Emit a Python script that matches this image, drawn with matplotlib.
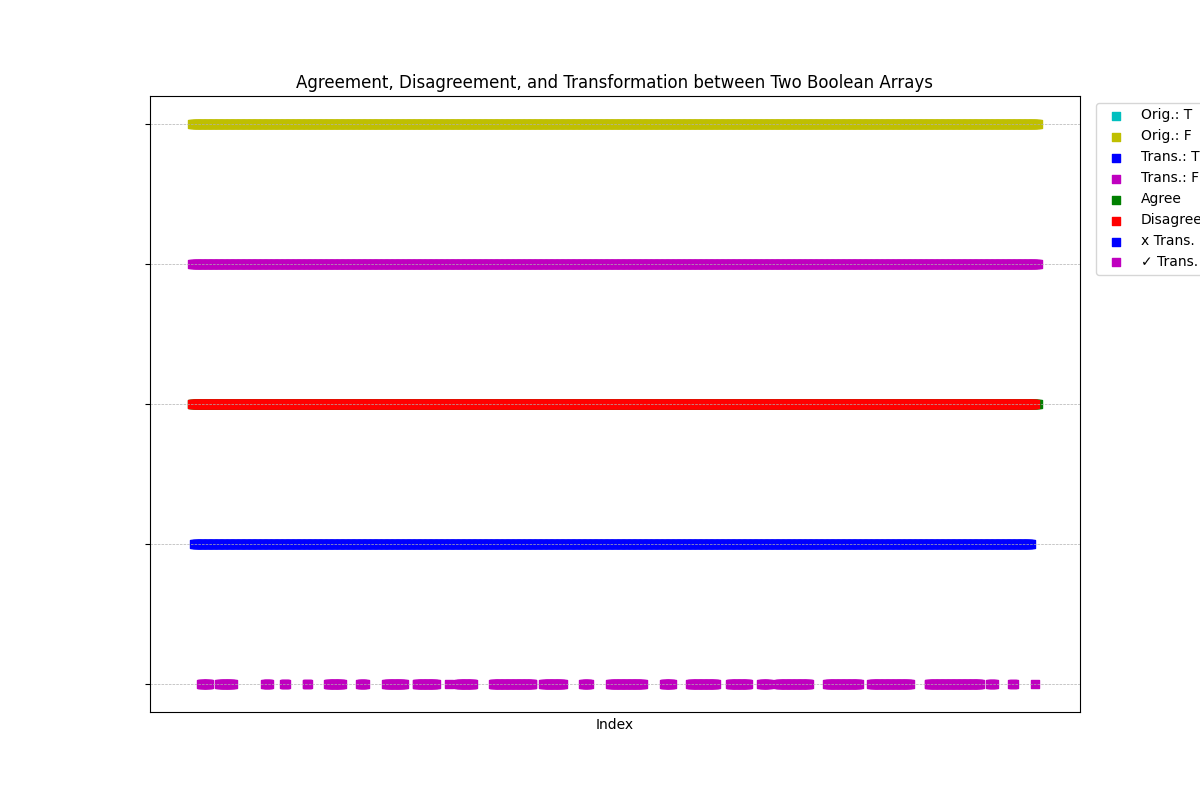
import numpy as np
import matplotlib
matplotlib.use('Agg')
import matplotlib.pyplot as plt

# index ranges (inclusive), 1000 positions in total
n_points = 1000
orig_t_segs = []
orig_f_segs = [(0, 999)]
trans_t_segs = []
trans_f_segs = [(0, 999)]
agree_segs = [(0, 999)]
disagree_segs = [(0, 996)]
x_trans_segs = [(2, 991)]
check_trans_segs = [(10, 20), (32, 48), (86, 91), (108, 111), (135, 137),
                    (160, 177), (198, 204), (229, 250), (265, 288), (303, 303),
                    (314, 332), (355, 402), (415, 438), (462, 469), (494, 532),
                    (557, 567), (588, 619), (635, 657), (672, 681), (692, 729),
                    (750, 788), (802, 848), (870, 931), (943, 947), (969, 971),
                    (996, 996)]


def expand(segs):
    idx = [np.arange(a, b + 1) for a, b in segs]
    if len(idx) == 0:
        return np.array([], dtype=int)
    return np.concatenate(idx)


#each series: label, color, row on the y axis, segments
series = [
    ('Orig.: T', 'c', 4, orig_t_segs),
    ('Orig.: F', 'y', 4, orig_f_segs),
    ('Trans.: T', 'b', 3, trans_t_segs),
    ('Trans.: F', 'm', 3, trans_f_segs),
    ('Agree', 'g', 2, agree_segs),
    ('Disagree', 'r', 2, disagree_segs),
    ('x Trans.', 'b', 1, x_trans_segs),
    ('\u2713 Trans.', 'm', 0, check_trans_segs),
]

fig, ax = plt.subplots(figsize=(12, 8), dpi=100)

for label, color, row, segs in series:
    xs = expand(segs)
    ax.scatter(xs, np.full(len(xs), row), c=color, marker='s', label=label)

ax.set_yticks([0, 1, 2, 3, 4])
ax.set_yticklabels([])
ax.set_xticks([])
ax.set_xlabel('Index')
ax.set_title('Agreement, Disagreement, and Transformation between Two Boolean Arrays')
ax.grid(axis='y', linestyle='--', linewidth=0.5)
ax.legend(loc='upper left', bbox_to_anchor=(1.01, 1))

plt.savefig('out.png')
